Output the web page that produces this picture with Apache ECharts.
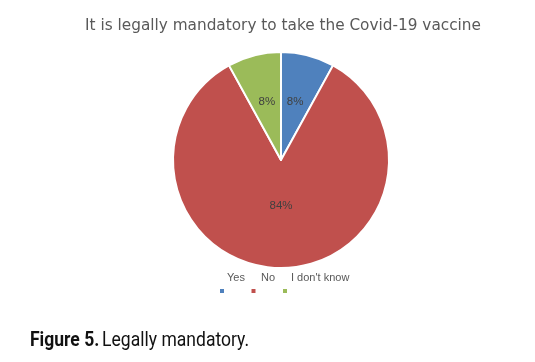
<!DOCTYPE html>
<html><head><meta charset="utf-8">
<script src="https://cdn.jsdelivr.net/npm/echarts@6/dist/echarts.min.js"></script>
<style>html,body{margin:0;padding:0;background:#fff}#c{width:535px;height:362px}</style>
</head><body><div id="c"></div>
<script>
const categories = ['Yes', 'No', "I don't know"];
const values = [8, 84, 8];
const colors = ['#4F81BD', '#C0504D', '#9BBB59'];
const chartTitle = 'It is legally mandatory to take the Covid-19 vaccine';
const caption = ['Figure 5.', 'Legally mandatory.'];
const labelShift = [[0, -3], [0, -11], [0, -3]];

const chart = echarts.init(document.getElementById('c'));
chart.setOption({
  animation: false,
  title: [{
    text: chartTitle, left: 278, top: 14, textAlign: 'center',
    textStyle: {fontFamily: 'DejaVu Sans', fontSize: 15.3, fontWeight: 'normal', color: '#595959'}
  }],
  graphic: [{
    type: 'text', x: 30, y: 330, scaleX: 0.835,
    style: {
      text: '{b|' + caption[0] + '} {n|' + caption[1] + '}',
      rich: {
        b: {fontFamily: 'Roboto', fontWeight: 'bold', fontSize: 21, fill: '#111'},
        n: {fontFamily: 'Roboto', fontWeight: 'normal', fontSize: 21, fill: '#111'}
      }
    }
  }],
  legend: [{
    data: categories, left: 218, top: 287, orient: 'horizontal', padding: 0,
    itemWidth: 6, itemHeight: 6, itemGap: 23.5, icon: 'rect',
    formatter: () => '', textStyle: {padding: 0}
  }, {
    data: categories, left: 222, top: 272, orient: 'horizontal', padding: 0,
    itemWidth: 0, itemHeight: 0, itemGap: 11, icon: 'none',
    textStyle: {fontFamily: 'Liberation Sans', fontSize: 11, color: '#595959', padding: [0, 0, 0, 0]}
  }],
  series: [{
    type: 'pie', center: [281, 160], radius: 108, startAngle: 90, clockwise: true,
    data: categories.map((n, i) => ({name: n, value: values[i], itemStyle: {color: colors[i]}, label: {offset: labelShift[i]}})),
    itemStyle: {borderColor: '#fff', borderWidth: 2},
    label: {position: 'inside', formatter: '{c}%', fontFamily: 'Liberation Sans', fontSize: 11.5, color: '#404040'},
    labelLine: {show: false},
    emphasis: {disabled: true}
  }]
});
</script></body></html>
